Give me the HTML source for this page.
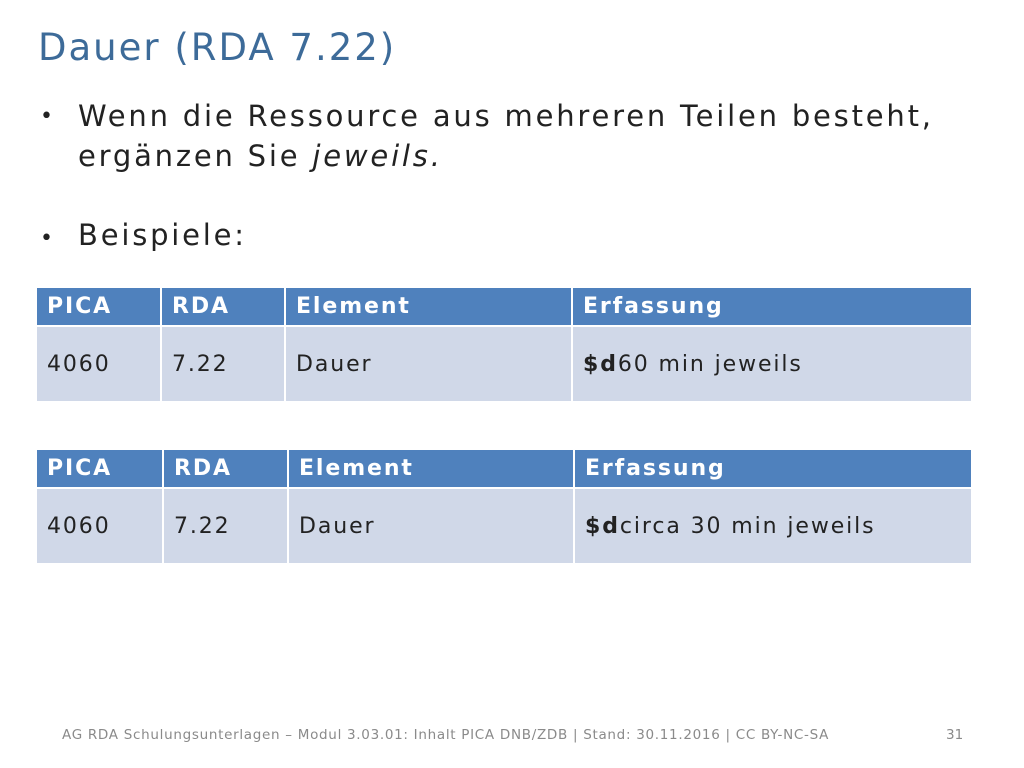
<!DOCTYPE html>
<html><head><meta charset="utf-8">
<style>
html,body{margin:0;padding:0;}
body{width:1024px;height:768px;background:#fff;position:relative;overflow:hidden;font-family:"DejaVu Sans","Liberation Sans",sans-serif;}
.abs{position:absolute;white-space:nowrap;}
#title{left:38px;top:26px;font-size:37px;color:#3d6b99;letter-spacing:2px;}
.bul{font-size:29px;color:#222;letter-spacing:2.8px;}
.dot{font-size:22px;color:#222;}
table{position:absolute;border-collapse:collapse;font-size:22px;table-layout:fixed;letter-spacing:1.9px;}
td{padding:0 0 0 10px;border:2px solid #fff;vertical-align:middle;white-space:nowrap;}
tr.h td{background:#4f81bd;color:#fff;font-weight:bold;height:37px;}
tr.b td{background:#d0d8e8;color:#222;height:74px;}
#footer{left:62px;top:727px;font-size:13.5px;color:#8a8a8a;letter-spacing:0.7px;}
#pnum{left:946px;top:727px;font-size:13.5px;color:#8a8a8a;}
</style></head>
<body>
<div class="abs" id="title">Dauer (RDA 7.22)</div>
<div class="abs dot" style="left:40px;top:104px">•</div>
<div class="abs bul" style="left:78px;top:96px;line-height:40px">Wenn die Ressource aus mehreren Teilen besteht,<br>ergänzen Sie <i>jeweils.</i></div>
<div class="abs dot" style="left:40px;top:226px">•</div>
<div class="abs bul" style="left:78px;top:218px">Beispiele:</div>

<table style="left:35px;top:286px;width:938px">
<colgroup><col style="width:125px"><col style="width:124px"><col style="width:287px"><col></colgroup>
<tr class="h"><td>PICA</td><td>RDA</td><td>Element</td><td>Erfassung</td></tr>
<tr class="b"><td>4060</td><td>7.22</td><td>Dauer</td><td><b>$d</b>60 min jeweils</td></tr>
</table>

<table style="left:35px;top:448px;width:938px">
<colgroup><col style="width:127px"><col style="width:125px"><col style="width:286px"><col></colgroup>
<tr class="h"><td>PICA</td><td>RDA</td><td>Element</td><td>Erfassung</td></tr>
<tr class="b"><td>4060</td><td>7.22</td><td>Dauer</td><td><b>$d</b>circa 30 min jeweils</td></tr>
</table>

<div class="abs" id="footer">AG RDA Schulungsunterlagen – Modul 3.03.01: Inhalt PICA DNB/ZDB | Stand: 30.11.2016 | CC BY-NC-SA</div>
<div class="abs" id="pnum">31</div>
</body></html>
